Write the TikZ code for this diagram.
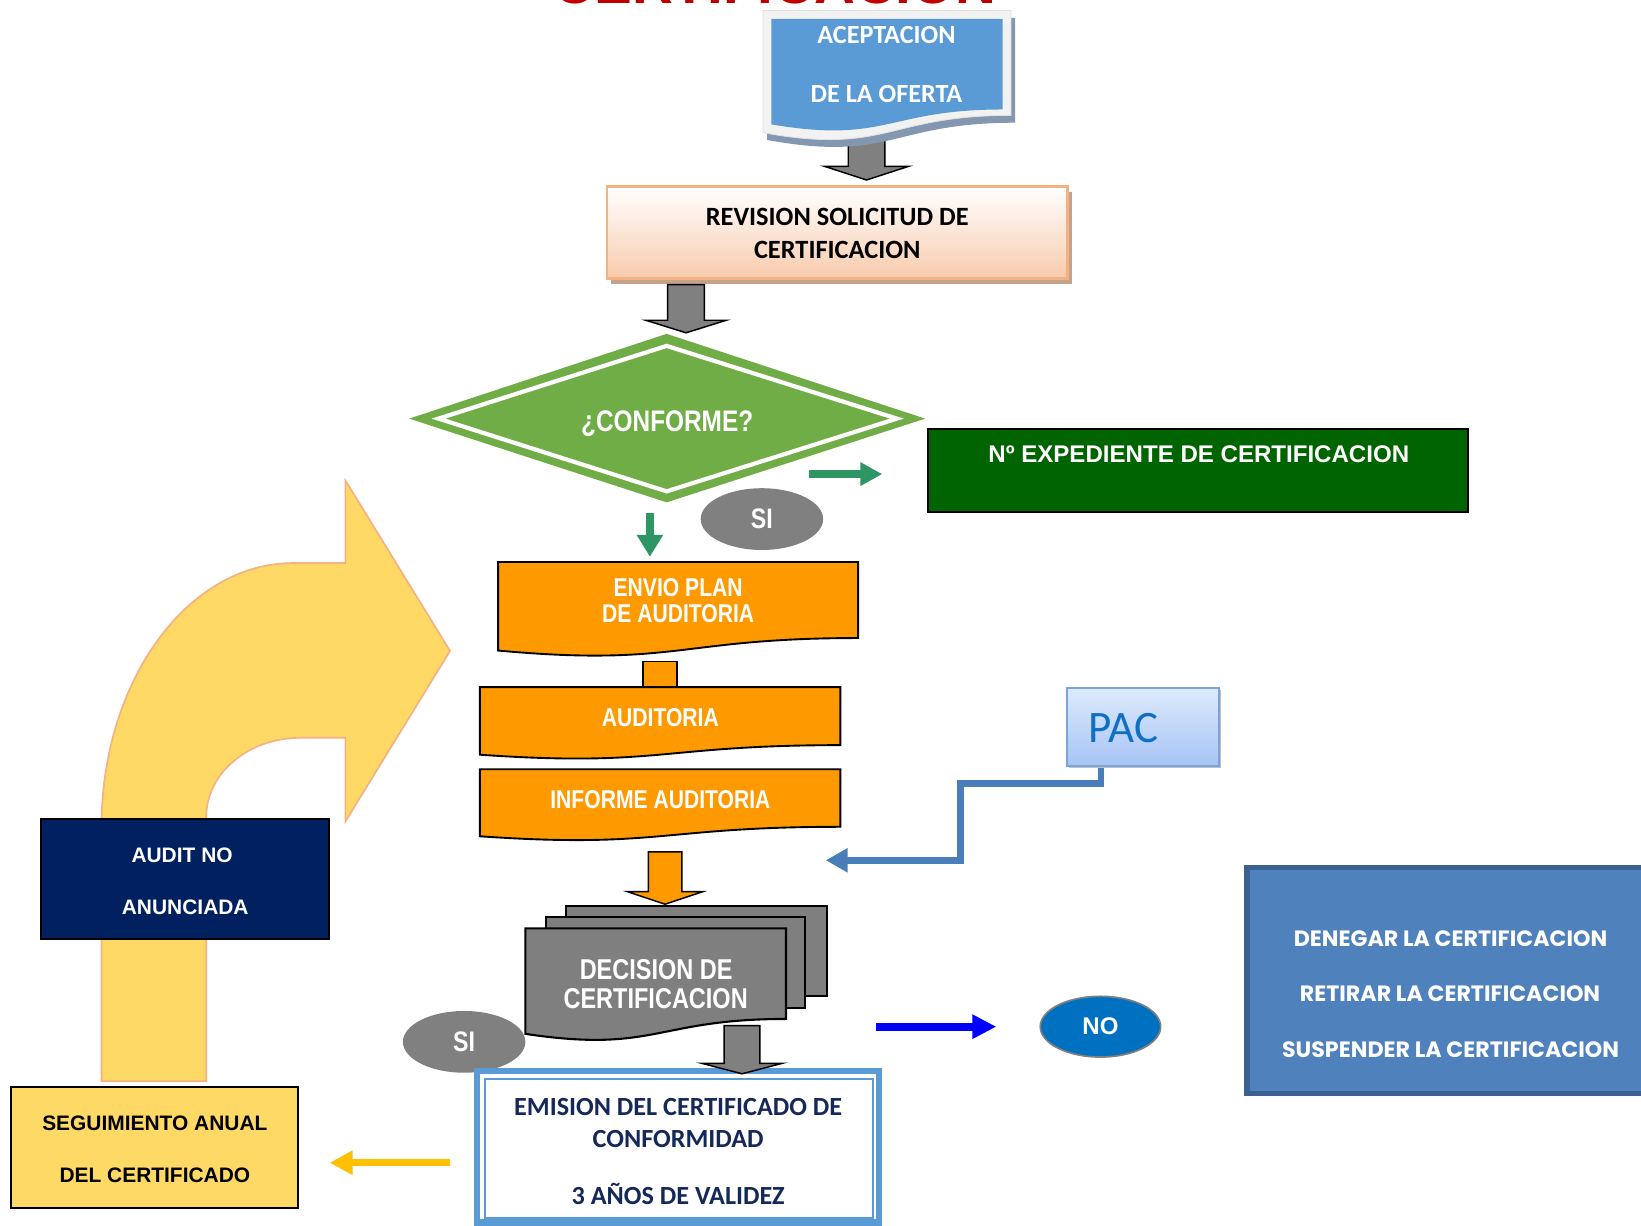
\documentclass[tikz,border=0pt]{standalone}
\usepackage{fontspec}
\setmainfont{Liberation Sans}
\newfontfamily\calfont{Carlito}
\newfontfamily\narrowfont[FakeStretch=0.82]{Liberation Sans}
\newfontfamily\twfont{Poppins}
\usetikzlibrary{arrows.meta,shapes.geometric}
\definecolor{aceblue}{HTML}{5B9BD5}
\definecolor{aceframe}{HTML}{F2F2F2}
\definecolor{aceshadow}{HTML}{8497B0}
\definecolor{peach}{HTML}{F8CBAD}
\definecolor{peachline}{HTML}{F4B183}
\definecolor{peachshadow}{HTML}{C4A28C}
\definecolor{arrowgrey}{HTML}{808080}
\definecolor{dgreen}{HTML}{70AD47}
\definecolor{tealgreen}{HTML}{2E9664}
\definecolor{expgreen}{HTML}{006400}
\definecolor{orangefill}{HTML}{FF9900}
\definecolor{pactop}{HTML}{DDEBFD}
\definecolor{pacbot}{HTML}{A6C4F4}
\definecolor{pacline}{HTML}{7EA3D8}
\definecolor{pactext}{HTML}{0F6FC6}
\definecolor{steelblue}{HTML}{4A7EBB}
\definecolor{decgrey}{HTML}{7F7F7F}
\definecolor{noblue}{HTML}{0070C0}
\definecolor{denfill}{HTML}{4F81BD}
\definecolor{denline}{HTML}{3A6190}
\definecolor{emline}{HTML}{5B9BD5}
\definecolor{emtext}{HTML}{14285A}
\definecolor{navy}{HTML}{002060}
\definecolor{yelfill}{HTML}{FFD966}
\definecolor{yelarrow}{HTML}{FFC000}
\definecolor{titlered}{HTML}{C00000}
% document shape: style, x1, y1, x2, h
\newcommand{\docshape}[5]{\path[#1] (#2,#3) -- (#4,#3) -- (#4,{#3+0.802*#5}) .. controls ({(#2+#4)/2},{#3+0.802*#5}) and ({(#2+#4)/2},{#3+1.107*#5}) .. (#2,{#3+0.934*#5}) -- cycle;}
% vertical block arrow: style, cx, ytop, shaft half, ybase, head half, ytip
\newcommand{\vblock}[7]{\path[#1] ({#2-#4},#3) -- ({#2+#4},#3) -- ({#2+#4},#5) -- ({#2+#6},#5) -- (#2,#7) -- ({#2-#6},#5) -- ({#2-#4},#5) -- cycle;}
\tikzset{
  txt/.style={inner sep=0pt, anchor=base},
  acetext/.style={txt, text=white, font=\calfont\bfseries\fontsize{12.5}{15}\selectfont},
  revtext/.style={txt, text=black, font=\calfont\bfseries\fontsize{12.6}{15}\selectfont},
  orangetext/.style={txt, text=white, font=\narrowfont\bfseries\fontsize{12.3}{14}\selectfont},
  dectext/.style={txt, text=white, font=\narrowfont\bfseries\fontsize{13.7}{15}\selectfont},
  whitebold/.style={txt, text=white, font=\bfseries\fontsize{10}{12}\selectfont},
  blackbold/.style={txt, text=black, font=\bfseries\fontsize{10}{12}\selectfont},
  dentext/.style={txt, text=white, font=\twfont\bfseries\fontsize{10.6}{12}\selectfont},
  emstyle/.style={txt, text=emtext, font=\calfont\bfseries\fontsize{12.5}{15}\selectfont},
  bubble/.style={ellipse, inner sep=0pt, minimum width=58.5pt, minimum height=29.5pt},
  blockgrey/.style={fill=arrowgrey, draw=black, line width=0.7pt},
  blockorange/.style={fill=orangefill, draw=black, line width=0.7pt},
  docorange/.style={fill=orangefill, draw=black, line width=0.9pt},
  docgrey/.style={fill=decgrey, draw=black, line width=1pt},
  boxline/.style={draw=black, line width=1pt}
}
\begin{document}
\begin{tikzpicture}[x=0.5pt,y=-0.5pt]
\useasboundingbox (0,0) rectangle (1568,1171);
\fill[white] (0,0) rectangle (1568,1171);

% cut title
\node[txt, text=titlered, font=\bfseries\fontsize{27}{30}\selectfont] (title) at (740.5,3.5) {CERTIFICACION};

% big yellow curved arrow
\path[fill=yelfill, draw=peachline, line width=0.8pt] (97,1033) -- (97,790) .. controls (97,651) and (179,538) .. (280,538) -- (330,538) -- (330,459) -- (430,622) -- (330,785) -- (330,705) -- (287,705) .. controls (237,705) and (197,739) .. (197,781) -- (197,1033) -- cycle;

% grey arrow 1 and ACEPTACION
\vblock{blockgrey}{828}{120}{17.5}{159}{40}{172}
\docshape{fill=aceshadow}{733}{17}{970}{125}
\docshape{fill=aceframe, draw=black!12, line width=0.4pt}{729}{10}{966}{125}
\docshape{fill=aceblue}{737}{18}{958}{108}
\node[acetext] (acep1) at (847,42) {ACEPTACION};
\node[acetext] (acep2) at (847,98) {DE LA OFERTA};

% REVISION
\fill[peachshadow] (584,183) rectangle (1024,271);
\path[top color=white, bottom color=peach, draw=peachline, line width=1.2pt] (580,178) rectangle (1020,266);
\node[revtext] (rev1) at (800,215) {REVISION SOLICITUD DE};
\node[revtext] (rev2) at (800,247) {CERTIFICACION};

\vblock{blockgrey}{655.5}{272}{17.5}{306}{38.5}{318}

% diamond
\path[fill=dgreen] (391,400) -- (637,319) -- (884,400) -- (637,480) -- cycle;
\path[draw=white, line width=2pt] (419,400) -- (637,330.5) -- (857,400) -- (637,469.5) -- cycle;
\node[txt, text=white, font=\narrowfont\bfseries\fontsize{14.2}{16}\selectfont] (conf) at (637.5,412) {¿CONFORME?};

% green arrows
\coordinate (gra) at (773,453);
\coordinate (grb) at (843,453);
\draw[tealgreen, line width=3.8pt, -{Triangle[length=10.5pt,width=10.7pt]}] (gra) -- (grb);
\coordinate (gda) at (621,490);
\coordinate (gdb) at (621,532);
\draw[tealgreen, line width=3.5pt, -{Triangle[length=10.5pt,width=12pt]}] (gda) -- (gdb);

\node[bubble, fill=arrowgrey, text=white, font=\narrowfont\bfseries\fontsize{13.5}{15}\selectfont] (si1) at (728,496) {SI};

% expediente
\path[fill=expgreen, boxline] (886.5,409.5) rectangle (1402.5,489);
\node[txt, text=white, font=\bfseries\fontsize{11.5}{13}\selectfont] (exp) at (1145.5,441.5) {Nº EXPEDIENTE DE CERTIFICACION};

% orange documents
\docshape{docorange}{476}{537}{820}{90.6}
\node[orangetext] (env1) at (648,570) {ENVIO PLAN};
\node[orangetext] (env2) at (648,595) {DE AUDITORIA};
\path[fill=orangefill, draw=black, line width=0.8pt] (614.5,632) rectangle (647,656.5);
\docshape{docorange}{458.5}{656.5}{803}{69.2}
\node[orangetext] (aud) at (631,694) {AUDITORIA};
\docshape{docorange}{458.5}{735}{803}{68.6}
\node[orangetext] (inf) at (631,773) {INFORME AUDITORIA};

% PAC
\coordinate (pacout) at (1052,728);
\coordinate (pacbend) at (918,749);
\coordinate (pacin) at (789,822);
\draw[steelblue, line width=3.3pt, line join=miter, -{Triangle[length=10.5pt,width=11pt]}] (pacout) |- (pacbend) |- (pacin);
\fill[black!25] (1021.5,659) rectangle (1166.5,733.5);
\node[draw=pacline, line width=0.8pt, top color=pactop, bottom color=pacbot, minimum width=72.5pt, minimum height=37.25pt, anchor=north west, inner sep=0pt] (pac) at (1019,656.5) {};
\node[txt, anchor=base west, text=pactext, font=\calfont\fontsize{21.5}{24}\selectfont] (pactxt) at (1040,709) {PAC};

% orange arrow
\vblock{blockorange}{635.5}{814}{16}{852}{36}{864}

% DECISION stack
\path[docgrey] (541,866) rectangle (790,952);
\path[docgrey] (522,876) rectangle (769,963);
\docshape{docgrey}{502}{887}{751}{108}
\node[dectext] (dec1) at (627,936) {DECISION DE};
\node[dectext] (dec2) at (626.5,964) {CERTIFICACION};

\node[bubble, fill=arrowgrey, text=white, font=\narrowfont\bfseries\fontsize{13.5}{15}\selectfont] (si2) at (443.5,995.5) {SI};

% blue arrow and NO
\coordinate (bla) at (837,981);
\coordinate (blb) at (952,981);
\draw[blue, line width=3.8pt, -{Triangle[length=11.5pt,width=11pt]}] (bla) -- (blb);
\node[bubble, minimum width=57.5pt, minimum height=29pt, fill=noblue, draw=arrowgrey, line width=0.8pt, text=white, font=\bfseries\fontsize{11.5}{13}\selectfont] (no) at (1051.5,981) {NO};

% DENEGAR box
\path[fill=denfill, draw=denline, line width=2.4pt] (1191.5,829) rectangle (1620,1045);
\node[dentext] (den1) at (1386,904.5) {DENEGAR LA CERTIFICACION};
\node[dentext] (den2) at (1385.5,957) {RETIRAR LA CERTIFICACION};
\node[dentext] (den3) at (1386,1010) {SUSPENDER LA CERTIFICACION};

% EMISION
\path[fill=white, draw=emline, line width=3pt] (455.5,1023.5) rectangle (840,1168);
\path[draw=emline, line width=1pt] (463,1031) rectangle (834.5,1164);
\node[emstyle] (em1) at (648,1066) {EMISION DEL CERTIFICADO DE};
\node[emstyle] (em2) at (648,1096) {CONFORMIDAD};
\node[emstyle] (em3) at (648,1151) {3 AÑOS DE VALIDEZ};

% grey arrow 3 (on top of the frame)
\vblock{blockgrey}{709}{980}{17}{1016}{38.5}{1026}

% AUDIT NO ANUNCIADA
\path[fill=navy, boxline] (39.5,782.5) rectangle (314.5,897);
\node[whitebold] (aud1) at (174,824) {AUDIT NO};
\node[whitebold] (aud2) at (177,874) {ANUNCIADA};

% SEGUIMIENTO
\path[fill=yelfill, boxline] (10.5,1038.5) rectangle (285,1154);
\node[blackbold] (seg1) at (148,1080) {SEGUIMIENTO ANUAL};
\node[blackbold] (seg2) at (148,1130) {DEL CERTIFICADO};

\coordinate (yla) at (430,1111);
\coordinate (ylb) at (315,1111);
\draw[yelarrow, line width=3.5pt, -{Triangle[length=11pt,width=11pt]}] (yla) -- (ylb);
\end{tikzpicture}
\end{document}
